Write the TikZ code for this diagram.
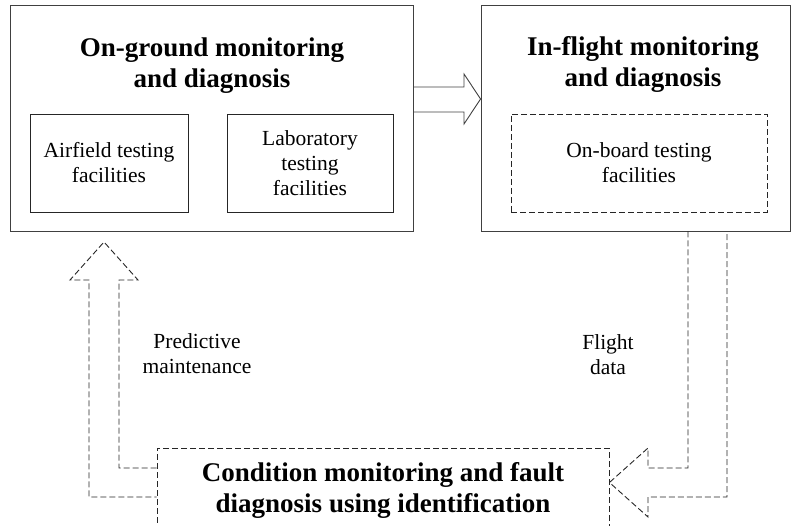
\documentclass[tikz,border=0pt]{standalone}
\usepackage{fontspec}
\setmainfont{Liberation Serif}
\usetikzlibrary{calc}
\tikzset{panel/.style={draw=black!75,line width=.9pt,inner sep=0pt},unit/.style={draw=black!85,line width=.9pt,align=center,inner sep=0pt,font=\fontsize{21.5}{25}\selectfont},titre/.style={align=center,font=\fontsize{27}{31}\selectfont\bfseries},dline/.style={draw=black!85,line width=.9pt,dash pattern=on 6pt off 3pt},hollow/.style={draw=black!75,line width=.9pt}}

\begin{document}
\begin{tikzpicture}[x=1pt,y=-1pt,lbl/.style={align=center,font=\fontsize{21.5}{25}\selectfont}]
\useasboundingbox (0,0) rectangle (791,526);
% boxes
\node[panel,minimum width=403,minimum height=226] (ground) at (211.5,118) {};
\node[panel,minimum width=309,minimum height=226] (flight) at (635.5,118) {};
\node[panel,dline,minimum width=452,minimum height=98] (ident) at (383,497) {};
\node[titre] (groundt) at (212,66) {On-ground monitoring\\and diagnosis};
\node[titre] (flightt) at (643,64) {In-flight monitoring\\and diagnosis};
\node[titre] (identt) at (383,490) {Condition monitoring and fault\\diagnosis using identification};
\node[unit,minimum width=158,minimum height=98] (airfield) at (109,163) {Airfield testing\\facilities};
\node[unit,minimum width=166,minimum height=98] (lab) at (310,163) {Laboratory\\testing\\facilities};
\node[unit,dline,minimum width=256,minimum height=98] (onboard) at (639,163) {On-board testing\\facilities};
% arrows
\draw[hollow] (ground.east |- 0,87) -- (464,87) -- (464,74) -- (flight.west |- 0,99) -- (464,124) -- (464,112) -- (ground.east |- 0,112);
\draw[dline] (688,0 |- flight.south) -- (688,468) -- (648,468) -- (648,448) -- (ident.east |- 0,482.5) -- (648,517) -- (648,497) -- (727,497) -- (727,0 |- flight.south);
\draw[dline] (ident.west |- 0,468) -- (119,468) -- (119,280) -- (138,280) -- (104,242) -- (70,280) -- (89,280) -- (89,497) -- (ident.west |- 0,497);
\node[lbl] (predict) at (197,354) {Predictive\\maintenance};
\node[lbl] (fdata) at (608,355) {Flight\\data};
\end{tikzpicture}
\end{document}
